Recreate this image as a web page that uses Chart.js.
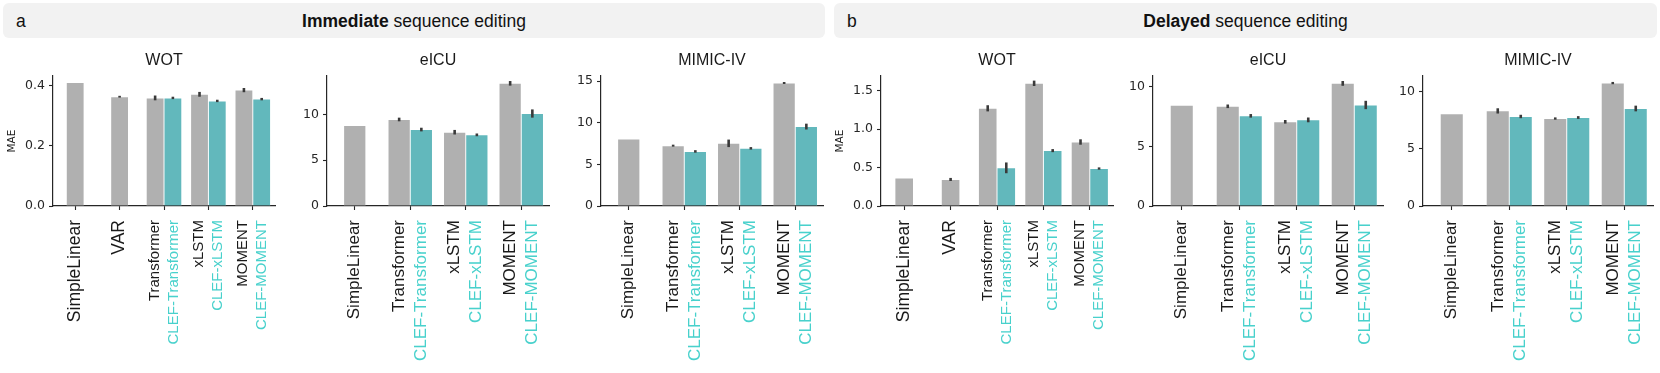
<!DOCTYPE html>
<html>
<head>
<meta charset="utf-8">
<script src="https://cdn.jsdelivr.net/npm/chart.js@4.4.1/dist/chart.umd.min.js"></script>
<style>
  body { margin: 0; background: #fff; width: 1660px; height: 373px; overflow: hidden; position: relative; font-family: 'Liberation Sans', Arial, sans-serif; }
  .head { position: absolute; top: 3px; height: 35px; background: #f2f2f2; border-radius: 6px; }
  .head .tag { position: absolute; left: 13px; top: 0; line-height: 37px; font-size: 17.5px; color: #111; }
  .head .txt { position: absolute; left: 0; right: 0; top: 0; line-height: 36px; text-align: center; font-size: 17.5px; color: #111; }
  .panel { position: absolute; top: 44px; }
</style>
</head>
<body>
<div class="head" style="left:3px;width:822px"><span class="tag">a</span><div class="txt"><b>Immediate</b> sequence editing</div></div>
<div class="head" style="left:834px;width:823px"><span class="tag">b</span><div class="txt"><b>Delayed</b> sequence editing</div></div>

<canvas id="immWot" class="panel" width="274" height="329" style="left:3px"></canvas>
<canvas id="immEicu" class="panel" width="274" height="329" style="left:277px"></canvas>
<canvas id="immMimic" class="panel" width="274" height="329" style="left:551px"></canvas>
<canvas id="delWot" class="panel" width="284" height="329" style="left:831px"></canvas>
<canvas id="delEicu" class="panel" width="282" height="329" style="left:1103px"></canvas>
<canvas id="delMimic" class="panel" width="282" height="329" style="left:1373px"></canvas>

<script>
// model names
const wotModels = ['SimpleLinear', 'VAR', 'Transformer', 'xLSTM', 'MOMENT'];
const wotClef = [null, null, 'CLEF-Transformer', 'CLEF-xLSTM', 'CLEF-MOMENT'];
const clinicalModels = ['SimpleLinear', 'Transformer', 'xLSTM', 'MOMENT'];
const clinicalClef = [null, 'CLEF-Transformer', 'CLEF-xLSTM', 'CLEF-MOMENT'];

// a: immediate sequence editing
const immWotBase = [0.411, 0.364, 0.360, 0.372, 0.386];
const immWotBaseErr = [0, 0.003, 0.008, 0.008, 0.007];
const immWotClefMae = [null, null, 0.360, 0.350, 0.356];
const immWotClefErr = [null, null, 0.004, 0.004, 0.004];
const immWotTicks = [0, 0.2, 0.4];

const immEicuBase = [8.79, 9.45, 8.06, 13.4];
const immEicuBaseErr = [0, 0.2, 0.25, 0.25];
const immEicuClefMae = [null, 8.35, 7.77, 10.1];
const immEicuClefErr = [null, 0.2, 0.15, 0.45];
const immEicuTicks = [0, 5, 10];

const immMimicBase = [8.04, 7.24, 7.52, 14.76];
const immMimicBaseErr = [0, 0.12, 0.45, 0.12];
const immMimicClefMae = [null, 6.55, 6.92, 9.53];
const immMimicClefErr = [null, 0.15, 0.15, 0.35];
const immMimicTicks = [0, 5, 10, 15];

// b: delayed sequence editing
const delWotBase = [0.362, 0.345, 1.27, 1.595, 0.832];
const delWotBaseErr = [0, 0.02, 0.04, 0.035, 0.035];
const delWotClefMae = [null, null, 0.496, 0.72, 0.487];
const delWotClefErr = [null, null, 0.07, 0.02, 0.015];
const delWotTicks = [0, 0.5, 1.0, 1.5];

const delEicuBase = [8.44, 8.36, 7.06, 10.28];
const delEicuBaseErr = [0, 0.15, 0.15, 0.2];
const delEicuClefMae = [null, 7.56, 7.22, 8.47];
const delEicuClefErr = [null, 0.15, 0.2, 0.35];
const delEicuTicks = [0, 5, 10];

const delMimicBase = [8.08, 8.34, 7.67, 10.78];
const delMimicBaseErr = [0, 0.23, 0.1, 0.1];
const delMimicClefMae = [null, 7.85, 7.76, 8.55];
const delMimicClefErr = [null, 0.15, 0.12, 0.25];
const delMimicTicks = [0, 5, 10];

const baseColor = '#b0b0b0';
const clefColor = '#62b8bc';
const clefText = '#48d1cc';
const ink = '#1a1a1a';

// little vertical error bars on top of every bar
const errorBars = {
  id: 'errorBars',
  afterDatasetsDraw(chart) {
    const { ctx, scales: { y } } = chart;
    ctx.save();
    ctx.strokeStyle = '#3a3a3a';
    ctx.lineWidth = 2.6;
    chart.data.datasets.forEach((ds, di) => {
      chart.getDatasetMeta(di).data.forEach((bar, i) => {
        const e = ds.errors[i];
        if (!e) return;
        const v = ds.data[i].y;
        ctx.beginPath();
        ctx.moveTo(bar.x, y.getPixelForValue(v - e));
        ctx.lineTo(bar.x, y.getPixelForValue(v + e));
        ctx.stroke();
      });
    });
    ctx.restore();
  },
};

function rotatedText(ctx, text, x, top, size, color) {
  ctx.save();
  ctx.translate(x, top);
  ctx.rotate(-Math.PI / 2);
  ctx.font = `${size}px 'Liberation Sans', Arial, sans-serif`;
  ctx.fillStyle = color;
  ctx.textAlign = 'right';
  ctx.textBaseline = 'middle';
  ctx.fillText(text, 0, 0);
  ctx.restore();
}

// two-coloured model names under the x axis
function modelLabels(models, clef, singleSize, pairSize, gap) {
  return {
    id: 'modelLabels',
    afterDraw(chart) {
      const { ctx, chartArea, scales: { x } } = chart;
      const top = chartArea.bottom + 14;
      models.forEach((name, i) => {
        const px = x.getPixelForValue(i);
        if (clef[i]) {
          rotatedText(ctx, name, px - gap, top, pairSize, ink);
          rotatedText(ctx, clef[i], px + gap, top, pairSize, clefText);
        } else {
          rotatedText(ctx, name, px, top, singleSize, ink);
        }
      });
    },
  };
}

function showPanel(id, p) {
  const grayPts = [], tealPts = [], tealErr = [];
  p.base.forEach((v, i) => {
    const paired = p.clefMae[i] !== null;
    grayPts.push({ x: paired ? i - 0.2 : i, y: v });
    if (paired) {
      tealPts.push({ x: i + 0.2, y: p.clefMae[i] });
      tealErr.push(p.clefErr[i]);
    }
  });
  const decimals = p.ticks.some(t => t % 1 !== 0) ? 1 : 0;

  new Chart(id, {
    type: 'bar',
    data: {
      datasets: [
        {
          data: grayPts,
          errors: p.baseErr,
          backgroundColor: baseColor,
          borderColor: 'rgba(255,255,255,0.3)',
          borderWidth: 0.8,
          grouped: false,
          barPercentage: 1,
          categoryPercentage: 1,
        },
        {
          data: tealPts,
          errors: tealErr,
          backgroundColor: clefColor,
          borderColor: 'rgba(255,255,255,0.3)',
          borderWidth: 0.8,
          grouped: false,
          barPercentage: 1,
          categoryPercentage: 1,
        },
      ],
    },
    options: {
      responsive: false,
      animation: false,
      devicePixelRatio: 1,
      layout: { padding: { left: 0, right: 2, top: 0, bottom: 0 } },
      scales: {
        x: {
          type: 'linear',
          min: -0.5,
          max: p.models.length - 0.5,
          offset: false,
          afterBuildTicks: s => { s.ticks = p.models.map((_, i) => ({ value: i })); },
          afterFit: s => { s.height = 167; },
          ticks: { display: false },
          grid: { offset: false, drawOnChartArea: false, drawTicks: true, tickLength: 4, color: '#262626', tickWidth: 1.1 },
          border: { display: true, color: '#262626', width: 1.2 },
        },
        y: {
          min: 0,
          max: p.yMax,
          afterBuildTicks: s => { s.ticks = p.ticks.map(v => ({ value: v })); },
          afterFit: s => { s.width = 50; },
          ticks: {
            padding: 4,
            color: '#262626',
            font: { family: "'DejaVu Sans', sans-serif", size: 12.5 },
            callback: v => v.toFixed(decimals),
          },
          grid: { drawOnChartArea: false, drawTicks: true, tickLength: 4, color: '#262626', tickWidth: 1.1 },
          border: { display: true, color: '#262626', width: 1.2 },
          title: {
            display: !!p.yTitle,
            text: p.yTitle || '',
            color: ink,
            font: { family: "'DejaVu Sans', sans-serif", size: 10.5 },
            padding: { top: 3, bottom: 0 },
          },
        },
      },
      plugins: {
        legend: { display: false },
        tooltip: { enabled: false },
        title: {
          display: true,
          text: p.title,
          fullSize: false,
          color: ink,
          font: { family: "'Liberation Sans', Arial, sans-serif", size: 16, weight: 'normal', lineHeight: 1.2 },
          padding: { top: 7.4, bottom: 5.4 },
        },
      },
    },
    plugins: [errorBars, modelLabels(p.models, p.clef, p.singleSize, p.pairSize, p.gap)],
  });
}

const wotStyle = { models: wotModels, clef: wotClef, singleSize: 17.5, pairSize: 15, gap: 9.5 };
const clinStyle = { models: clinicalModels, clef: clinicalClef, singleSize: 17, pairSize: 17, gap: 11 };

showPanel('immWot', { ...wotStyle, title: 'WOT', yTitle: 'MAE', base: immWotBase, baseErr: immWotBaseErr, clefMae: immWotClefMae, clefErr: immWotClefErr, ticks: immWotTicks, yMax: 0.433 });
showPanel('immEicu', { ...clinStyle, title: 'eICU', base: immEicuBase, baseErr: immEicuBaseErr, clefMae: immEicuClefMae, clefErr: immEicuClefErr, ticks: immEicuTicks, yMax: 14.2 });
showPanel('immMimic', { ...clinStyle, title: 'MIMIC-IV', base: immMimicBase, baseErr: immMimicBaseErr, clefMae: immMimicClefMae, clefErr: immMimicClefErr, ticks: immMimicTicks, yMax: 15.6 });
showPanel('delWot', { ...wotStyle, title: 'WOT', yTitle: 'MAE', base: delWotBase, baseErr: delWotBaseErr, clefMae: delWotClefMae, clefErr: delWotClefErr, ticks: delWotTicks, yMax: 1.69 });
showPanel('delEicu', { ...clinStyle, title: 'eICU', base: delEicuBase, baseErr: delEicuBaseErr, clefMae: delEicuClefMae, clefErr: delEicuClefErr, ticks: delEicuTicks, yMax: 10.9 });
showPanel('delMimic', { ...clinStyle, title: 'MIMIC-IV', base: delMimicBase, baseErr: delMimicBaseErr, clefMae: delMimicClefMae, clefErr: delMimicClefErr, ticks: delMimicTicks, yMax: 11.4 });
</script>
</body>
</html>
